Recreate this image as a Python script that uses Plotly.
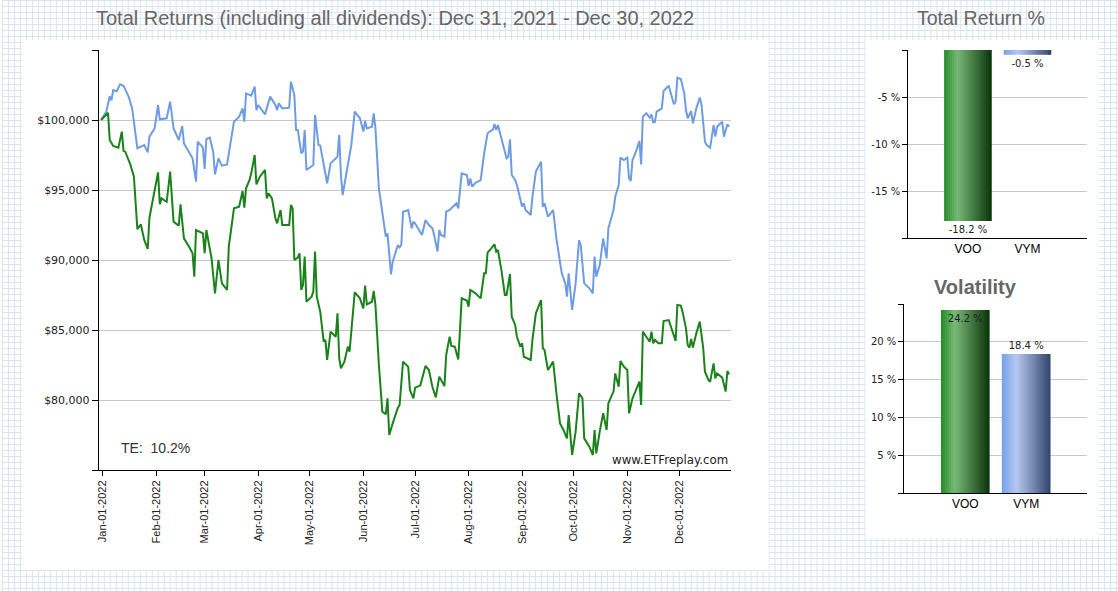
import pandas as pd
import plotly.graph_objects as go

# ---------------- data ----------------
START = "2021-12-31"

vym_days = [0, 3, 5, 6, 7, 9, 11, 13, 16, 18, 21, 23, 25, 27, 28, 31, 33, 34, 38, 40, 42, 45, 47, 48, 51, 53, 55, 56,
            59, 60, 61, 63, 65, 66, 68, 70, 73, 77, 80, 82, 83, 84, 87, 89, 90, 91, 95, 98, 101, 102, 103, 105, 109,
            110, 112, 113, 114, 116, 117, 118, 119, 122, 123, 124, 126, 127, 131, 133, 136, 137, 138, 139, 140, 143,
            145, 147, 150, 152, 153, 154, 157, 158, 159, 161, 163, 165, 166, 168, 169, 172, 173, 174, 175, 178, 180,
            181, 182, 185, 186, 188, 190, 192, 193, 195, 196, 197, 199, 200, 202, 203, 205, 206, 207, 208, 209, 212,
            213, 214, 215, 217, 220, 222, 224, 226, 227, 228, 229, 230, 232, 234, 235, 236, 237, 238, 240, 241, 243,
            244, 245, 246, 249, 250, 252, 255, 256, 257, 259, 262, 264, 265, 267, 269, 270, 271, 273, 275, 277, 278,
            280, 283, 285, 286, 287, 289, 291, 293, 294, 297, 298, 300, 301, 303, 305, 306, 307, 308, 310, 312, 313,
            314, 316, 318, 319, 320, 321, 322, 325, 326, 329, 332, 333, 334, 336, 338, 339, 340, 342, 343, 345, 347,
            348, 350, 351, 353, 355, 356, 357, 360, 361, 363, 364]
vym_values = [100000, 100600, 101700, 101400, 102140, 102050, 102550, 102450, 101660, 100830, 97980, 98100, 98210,
              97690, 98810, 99400, 101070, 100050, 100120, 101310, 99400, 98570, 99570, 98330, 97620, 97260, 95600,
              98450, 98020, 96500, 98640, 98740, 97690, 96120, 97260, 96740, 96830, 99880, 100240, 100830, 99880,
              101900, 101740, 102380, 100710, 101070, 100400, 101670, 101070, 100710, 101190, 100830, 100880, 102740,
              101790, 99290, 99290, 97620, 97740, 99290, 96430, 96670, 96790, 100360, 98210, 98170, 95480, 96900,
              97260, 97380, 98930, 96070, 94640, 96790, 98210, 100600, 100120, 99170, 99930, 99400, 99520, 100480,
              99400, 95120, 93210, 91670, 91900, 88980, 89880, 91070, 90900, 91070, 93450, 93570, 92260, 92740,
              92600, 92000, 91790, 92860, 92500, 92260, 91790, 90600, 92140, 91790, 91670, 93450, 93570, 93690,
              93930, 94050, 93690, 94880, 96190, 96070, 95290, 95830, 95240, 95520, 95710, 97620, 99050, 99240,
              99290, 99710, 99290, 99640, 98690, 97740, 97260, 97380, 98620, 96070, 95710, 95360, 94290, 93810,
              94050, 93570, 93210, 94520, 96310, 97020, 93810, 94050, 93100, 93570, 91430, 90710, 89050, 88340,
              87380, 89050, 86430, 88300, 91400, 91070, 88330, 87980, 87620, 90240, 88810, 89640, 91550, 90120,
              92260, 93570, 94520, 95360, 97310, 97140, 97310, 95830, 95640, 97140, 97740, 98500, 96830, 100240,
              100480, 100170, 100400, 99830, 99880, 100600, 100830, 102070, 102450, 101120, 101310, 103020, 102930,
              101900, 100710, 100120, 100640, 99760, 100830, 101600, 101120, 98450, 98210, 98020, 99640, 98810,
              99520, 99880, 98810, 99690, 99520]

voo_days = [0, 4, 5, 7, 10, 12, 13, 14, 17, 19, 21, 23, 25, 27, 28, 30, 33, 34, 35, 38, 40, 42, 45, 46, 48, 51, 53,
            54, 55, 59, 60, 61, 64, 66, 68, 70, 73, 74, 77, 80, 82, 83, 84, 86, 87, 89, 90, 92, 95, 96, 97, 99, 101,
            102, 104, 105, 109, 110, 111, 112, 114, 115, 116, 117, 118, 119, 122, 123, 124, 125, 127, 129, 130, 131,
            133, 136, 137, 138, 139, 141, 143, 144, 147, 150, 152, 153, 154, 157, 158, 159, 161, 163, 165, 166, 167,
            169, 172, 173, 175, 178, 179, 181, 182, 185, 188, 190, 192, 194, 196, 199, 200, 202, 203, 205, 207, 208,
            209, 212, 213, 214, 217, 220, 222, 223, 224, 226, 228, 229, 230, 232, 234, 235, 237, 238, 240, 241, 243,
            244, 245, 249, 250, 252, 255, 256, 257, 259, 262, 264, 266, 268, 270, 271, 273, 275, 277, 279, 280, 283,
            285, 286, 287, 289, 291, 293, 294, 297, 298, 300, 301, 303, 305, 306, 308, 310, 312, 313, 314, 316, 318,
            319, 320, 321, 323, 325, 326, 329, 331, 333, 334, 336, 337, 339, 340, 341, 342, 343, 345, 347, 349, 350,
            352, 353, 355, 356, 357, 360, 362, 363, 364]
voo_values = [100000, 100520, 98570, 98140, 98020, 99170, 97790, 97740, 96790, 95950, 92210, 92550, 91430, 90790,
              93020, 94400, 96260, 93980, 94400, 94160, 96310, 92740, 92450, 93980, 91550, 90950, 90480, 88810,
              92140, 91900, 90480, 92140, 90120, 87620, 90000, 88330, 87860, 90950, 93690, 93810, 94930, 93740,
              95120, 95710, 96190, 97500, 95400, 95950, 96430, 94400, 94760, 94400, 92980, 92620, 93570, 92500,
              92500, 93930, 93690, 90000, 90170, 90480, 87860, 88210, 90240, 87020, 87380, 87740, 90600, 87380,
              86310, 84170, 84290, 82860, 84880, 84520, 86190, 82980, 82260, 82740, 83810, 83450, 87690, 87260,
              86550, 88170, 86830, 87020, 87790, 86790, 82500, 79170, 78980, 80120, 77500, 78330, 79450, 79640,
              82740, 82380, 80710, 80120, 80880, 81030, 82430, 82140, 80950, 80190, 81670, 80990, 83210, 84520,
              83860, 83810, 82900, 85000, 87260, 87100, 86670, 87860, 87620, 87260, 89050, 89050, 90520, 90810,
              91120, 90600, 90710, 89290, 87500, 87500, 89000, 85950, 85360, 84520, 83810, 84050, 83090, 82860,
              84290, 86190, 87140, 83690, 83570, 82140, 82740, 80360, 78330, 77860, 77260, 78930, 76070, 77700,
              80480, 80120, 77260, 76670, 76070, 77860, 76190, 77740, 79050, 77860, 79760, 80600, 81900, 80950,
              82790, 82380, 82140, 79050, 80120, 80710, 81310, 79640, 84880, 84520, 84170, 84880, 84050, 84290,
              84050, 84050, 85640, 85710, 84880, 84210, 86790, 86740, 86310, 85120, 83930, 83740, 84360, 83740,
              84760, 85600, 83690, 82020, 81430, 81310, 82620, 81550, 81900, 81600, 80600, 82070, 81830]

y_tick_values = [75000, 80000, 85000, 90000, 95000, 100000, 105000]
y_tick_labels = ["", "$80,000", "$85,000", "$90,000", "$95,000", "$100,000", ""]

tickers = ["VOO", "VYM"]
total_return = [-18.2, -0.5]
volatility = [24.2, 18.4]
tracking_error = "10.2%"

ret_tick_values = [0, -5, -10, -15, -20]
ret_tick_labels = ["", "-5 %", "-10 %", "-15 %", ""]
vol_tick_values = [0, 5, 10, 15, 20, 25]
vol_tick_labels = ["", "5 %", "10 %", "15 %", "20 %", ""]

# ---------------- styling ----------------
W, H = 1118, 591
GREEN = "#1a821a"
BLUE = "#6e9ce2"
GRID = "#c8c8c8"
TXT = "#222222"


def px_x(p):
    return p / W


def px_y(p):
    return 1 - p / H


start = pd.Timestamp(START)
vym_dates = start + pd.to_timedelta(vym_days, unit="D")
voo_dates = start + pd.to_timedelta(voo_days, unit="D")

fig = go.Figure()

fig.add_trace(go.Scatter(x=vym_dates, y=vym_values, mode="lines", name="VYM",
                         line=dict(color=BLUE, width=2), xaxis="x", yaxis="y"))
fig.add_trace(go.Scatter(x=voo_dates, y=voo_values, mode="lines", name="VOO",
                         line=dict(color=GREEN, width=2), xaxis="x", yaxis="y"))

# gradient bar look via thin strips
STOPS = {
    "VOO": [(0.0, (36, 140, 36)), (0.28, (118, 184, 118)), (1.0, (10, 52, 10))],
    "VYM": [(0.0, (118, 160, 236)), (0.3, (182, 200, 240)), (1.0, (48, 68, 108))],
}


def grad(stops, t):
    for (p0, c0), (p1, c1) in zip(stops[:-1], stops[1:]):
        if p0 <= t <= p1:
            f = (t - p0) / (p1 - p0)
            c = [round(a + (b - a) * f) for a, b in zip(c0, c1)]
            return "rgb(%d,%d,%d)" % tuple(c)
    c = stops[-1][1]
    return "rgb(%d,%d,%d)" % c


N = 24
BW = 0.8
for ax, vals in (("2", total_return), ("3", volatility)):
    for k in range(N):
        off = -BW / 2 + k * BW / N
        wid = min(BW / N * 1.3, BW / 2 - off)
        t = (k + 0.5) / N
        fig.add_trace(go.Bar(x=tickers, y=vals, width=wid, offset=off,
                             marker=dict(color=[grad(STOPS[c], t) for c in tickers], line=dict(width=0)),
                             xaxis="x" + ax, yaxis="y" + ax, hoverinfo="skip"))

fig.add_trace(go.Bar(x=tickers, y=total_return, width=BW,
                     text=["%.1f %%" % v for v in total_return], textposition="outside",
                     textfont=dict(family="DejaVu Sans", size=10, color=TXT), cliponaxis=False,
                     marker=dict(color="rgba(0,0,0,0)", line=dict(width=0)), xaxis="x2", yaxis="y2"))
fig.add_trace(go.Bar(x=tickers, y=volatility, width=BW,
                     text=["%.1f %%" % v for v in volatility], textposition=["inside", "outside"],
                     insidetextanchor="end", constraintext="none",
                     textfont=dict(family="DejaVu Sans", size=10, color=TXT),
                     insidetextfont=dict(family="DejaVu Sans", size=10, color=TXT),
                     outsidetextfont=dict(family="DejaVu Sans", size=10, color=TXT), cliponaxis=False,
                     marker=dict(color="rgba(0,0,0,0)", line=dict(width=0)), xaxis="x3", yaxis="y3"))

# background graph paper pattern + white panels
segs = []
for i in range(0, W + 1, 6):
    x = px_x(i + 0.5)
    segs.append("M%.5f,0 L%.5f,1" % (x, x))
for j in range(0, H + 1, 6):
    y = px_y(j + 0.5)
    segs.append("M0,%.5f L1,%.5f" % (y, y))
shapes = [dict(type="path", xref="paper", yref="paper", path=" ".join(segs),
               line=dict(color="#d8e5ee", width=1), layer="below")]
for (x0, y0, x1, y1) in ((20, 40, 768, 570), (865, 40, 1099, 538)):
    shapes.append(dict(type="rect", xref="paper", yref="paper", x0=px_x(x0), x1=px_x(x1),
                       y0=px_y(y1), y1=px_y(y0), fillcolor="white", line=dict(width=0), layer="below"))

annotations = [
    dict(text="Total Returns (including all dividends): Dec 31, 2021 - Dec 30, 2022", x=px_x(394), y=px_y(18),
         xref="paper", yref="paper", showarrow=False, xanchor="center", yanchor="middle",
         font=dict(family="Liberation Sans", size=20, color="#666666")),
    dict(text="Total Return %", x=px_x(981), y=px_y(18), xref="paper", yref="paper", showarrow=False,
         xanchor="center", yanchor="middle", font=dict(family="Liberation Sans", size=19.5, color="#666666")),
    dict(text="<b>Volatility</b>", x=px_x(975), y=px_y(287), xref="paper", yref="paper", showarrow=False,
         xanchor="center", yanchor="middle", font=dict(family="Liberation Sans", size=20, color="#666666")),
    dict(text="TE:  " + tracking_error, x=px_x(117), y=px_y(448), xref="paper", yref="paper", showarrow=False,
         xanchor="left", yanchor="middle", font=dict(family="Liberation Sans", size=14, color="#333333")),
    dict(text="www.ETFreplay.com", x=px_x(729), y=px_y(460), xref="paper", yref="paper", showarrow=False,
         xanchor="right", yanchor="middle", font=dict(family="DejaVu Sans", size=11.8, color=TXT)),
]

fig.update_layout(
    width=W, height=H, margin=dict(l=0, r=0, t=0, b=0),
    paper_bgcolor="white", plot_bgcolor="rgba(0,0,0,0)",
    showlegend=False, hovermode=False, barmode="overlay",
    font=dict(family="Liberation Sans", color=TXT),
    shapes=shapes, annotations=annotations,
    xaxis=dict(domain=[px_x(97), px_x(730)], anchor="y", type="date",
               range=["2021-12-29 16:00", "2022-12-30 22:00"],
               tick0="2022-01-01", dtick="M1", tickformat="%b-%d-%Y", tickangle=-90,
               ticks="outside", ticklen=5, tickcolor="black", showline=True, linecolor="black", linewidth=1,
               showgrid=False, zeroline=False, tickfont=dict(family="Liberation Sans", size=11, color=TXT)),
    yaxis=dict(domain=[px_y(470), px_y(50)], anchor="x", range=[75000, 105000],
               tickvals=y_tick_values, ticktext=y_tick_labels,
               ticks="outside", ticklen=6, tickcolor="black", showline=True, linecolor="black", linewidth=1,
               showgrid=True, gridcolor=GRID, gridwidth=1, zeroline=False,
               tickfont=dict(family="DejaVu Sans", size=11, color=TXT)),
    xaxis2=dict(domain=[px_x(908), px_x(1087)], anchor="y2", type="category", range=[-1, 2],
                ticks="", showline=True, linecolor="black", linewidth=1, showgrid=False,
                tickfont=dict(family="Liberation Sans", size=12, color="black")),
    yaxis2=dict(domain=[px_y(238), px_y(50)], anchor="x2", range=[-20, 0],
                tickvals=ret_tick_values, ticktext=ret_tick_labels,
                ticks="outside", ticklen=5, tickcolor="black", showline=True, linecolor="black", linewidth=1,
                showgrid=True, gridcolor=GRID, zeroline=False,
                tickfont=dict(family="DejaVu Sans", size=10, color=TXT)),
    xaxis3=dict(domain=[px_x(904), px_x(1087)], anchor="y3", type="category", range=[-1, 2],
                ticks="", showline=True, linecolor="black", linewidth=1, showgrid=False,
                tickfont=dict(family="Liberation Sans", size=12, color="black")),
    yaxis3=dict(domain=[px_y(493), px_y(304)], anchor="x3", range=[0, 25],
                tickvals=vol_tick_values, ticktext=vol_tick_labels,
                ticks="outside", ticklen=5, tickcolor="black", showline=True, linecolor="black", linewidth=1,
                showgrid=True, gridcolor=GRID, zeroline=False,
                tickfont=dict(family="DejaVu Sans", size=10, color=TXT)),
)

fig.write_html("out.html", config={"displayModeBar": False},
               post_script="document.body.style.margin='0';document.body.style.overflow='hidden';")
